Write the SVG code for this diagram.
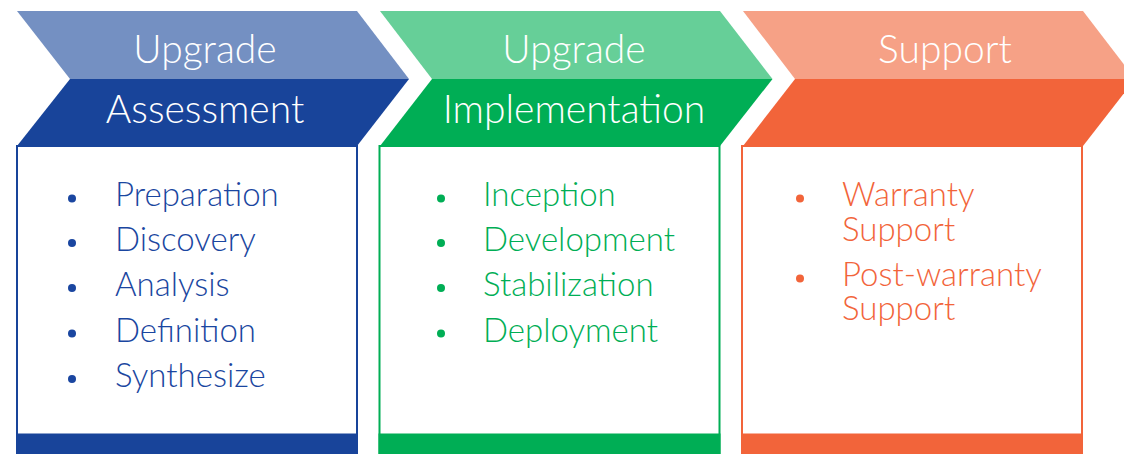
<svg xmlns="http://www.w3.org/2000/svg" width="1124" height="454" viewBox="0 0 1124 454">
<style>
.hd{font-family:Lato,"Liberation Sans",sans-serif;font-weight:300;font-size:39px;fill:#ffffff;text-anchor:middle}
.li{font-family:Lato,"Liberation Sans",sans-serif;font-weight:300;font-size:33px}
.b1{fill:#1A46A0}.b2{fill:#00AE55}.b3{fill:#F2643A}
</style>
<rect width="1124" height="454" fill="#ffffff"/>
<g id="node-assessment">
<polygon points="17,11 357,11 409,79 70,79" fill="#7490C2"/>
<polygon points="70,79 409,79 357,146 17,146" fill="#18449A"/>
<rect x="17" y="146" width="340" height="310" fill="#ffffff" stroke="#18449A" stroke-width="2"/>
<rect x="16" y="433.5" width="342" height="21" fill="#18449A"/>
<text class="hd" x="205" y="63">Upgrade</text>
<text class="hd" x="205" y="123">Assessment</text>
<g class="b1">
<circle cx="72" cy="198.5" r="4"/><circle cx="72" cy="243" r="4"/><circle cx="72" cy="288" r="4"/><circle cx="72" cy="333.5" r="4"/><circle cx="72" cy="379" r="4"/>
<text class="li" x="115" y="206">Preparation</text>
<text class="li" x="115" y="251">Discovery</text>
<text class="li" x="115" y="296">Analysis</text>
<text class="li" x="115" y="341.5">Definition</text>
<text class="li" x="115" y="387">Synthesize</text>
</g>
</g>
<g id="node-implementation">
<polygon points="380,11 720,11 772.5,79 432,79" fill="#66CF98"/>
<polygon points="432,79 772.5,79 720,146 380,146" fill="#00AE55"/>
<rect x="379.5" y="146" width="340" height="310" fill="#ffffff" stroke="#00AE55" stroke-width="2"/>
<rect x="378.5" y="433.5" width="342" height="21" fill="#00AE55"/>
<text class="hd" x="574" y="63">Upgrade</text>
<text class="hd" x="574" y="123">Implementation</text>
<g class="b2">
<circle cx="441" cy="198.5" r="4"/><circle cx="441" cy="243" r="4"/><circle cx="441" cy="288" r="4"/><circle cx="441" cy="333.5" r="4"/>
<text class="li" x="483" y="206">Inception</text>
<text class="li" x="483" y="251">Development</text>
<text class="li" x="483" y="296">Stabilization</text>
<text class="li" x="483" y="341.5">Deployment</text>
</g>
</g>
<g id="node-support">
<polygon points="743,11 1083,11 1135,79 795,79" fill="#F6A186"/>
<polygon points="795,79 1135,79 1083,146 743,146" fill="#F2643A"/>
<rect x="742" y="146" width="340" height="310" fill="#ffffff" stroke="#F2643A" stroke-width="2"/>
<rect x="741" y="433.5" width="342" height="21" fill="#F2643A"/>
<text class="hd" x="945" y="63">Support</text>
<g class="b3">
<circle cx="800" cy="198.5" r="4"/><circle cx="800" cy="278.5" r="4"/>
<text class="li" x="842" y="206">Warranty<tspan x="842" dy="34.5">Support</tspan><tspan x="842" dy="45">Post-warranty</tspan><tspan x="842" dy="34.5">Support</tspan></text>
</g>
</g>
<g id="connectors"></g>
</svg>
